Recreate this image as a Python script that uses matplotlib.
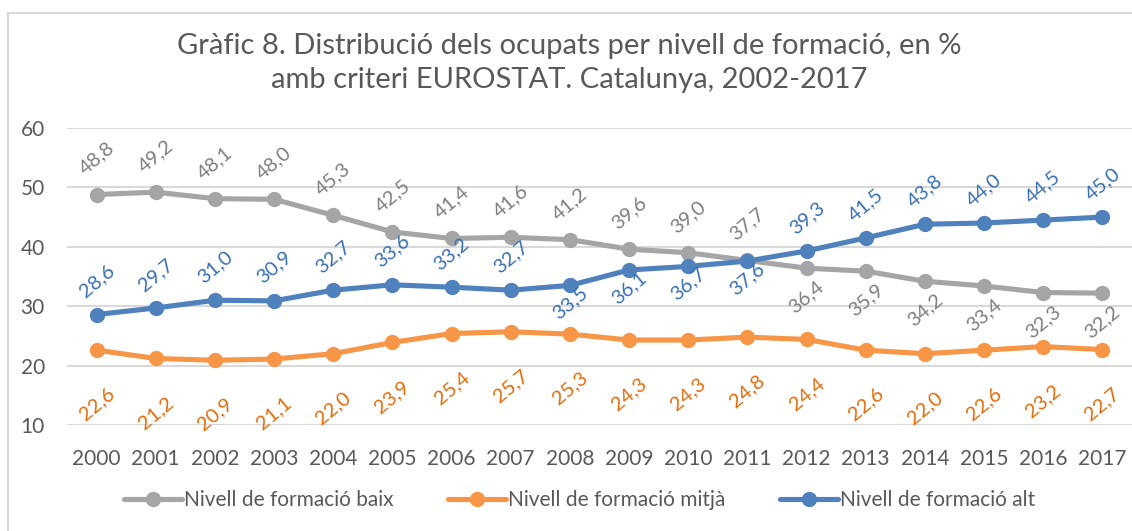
import numpy as np
import matplotlib.pyplot as plt
from matplotlib.patches import Rectangle

plt.rcParams['font.family'] = ['Lato', 'DejaVu Sans']

years = list(range(2000, 2018))
baix = [48.8, 49.2, 48.1, 48.0, 45.3, 42.5, 41.4, 41.6, 41.2, 39.6,
        39.0, 37.7, 36.4, 35.9, 34.2, 33.4, 32.3, 32.2]
mitja = [22.6, 21.2, 20.9, 21.1, 22.0, 23.9, 25.4, 25.7, 25.3, 24.3,
         24.3, 24.8, 24.4, 22.6, 22.0, 22.6, 23.2, 22.7]
alt = [28.6, 29.7, 31.0, 30.9, 32.7, 33.6, 33.2, 32.7, 33.5, 36.1,
       36.7, 37.6, 39.3, 41.5, 43.8, 44.0, 44.5, 45.0]
names = ['Nivell de formació baix', 'Nivell de formació mitjà', 'Nivell de formació alt']

# label side per point: +1 above, -1 below
side_baix = [1] * 12 + [-1] * 6
side_mitja = [-1] * 18
side_alt = [1] * 8 + [-1] * 4 + [1] * 6

series = [
    (baix, side_baix, '#A5A5A5', '#7F7F7F', 26, 21),
    (mitja, side_mitja, '#F79646', '#E46C0A', 26, 39),
    (alt, side_alt, '#4F81BD', '#3A70B5', 24, 13),
]

fig = plt.figure(figsize=(11.32, 5.31), dpi=100)
ax = fig.add_axes([67 / 1132, 1 - 425 / 531, 1 - 67 / 1132, (425 - 128) / 531])

x = np.arange(len(years))
for (vals, sides, col, tcol, up, down), name in zip(series, names):
    ax.plot(x, vals, color=col, lw=3.7, marker='o', ms=10, label=name,
            solid_capstyle='round', zorder=3)
    for xi, v, s in zip(x, vals, sides):
        off = up if s > 0 else -down
        ax.annotate(f'{v:.1f}'.replace('.', ','), (xi, v), xytext=(0, off),
                    textcoords='offset points', ha='center', va='center',
                    rotation=40, rotation_mode='anchor', color=tcol,
                    fontsize=14.5, zorder=4)

ax.set_xlim(-0.5, len(years) - 0.5)
ax.set_ylim(10, 60)
ax.set_yticks([10, 20, 30, 40, 50, 60])
ax.set_xticks(x)
ax.set_xticklabels([str(y) for y in years])
ax.tick_params(length=0, labelsize=15, colors='#595959', pad=17)
ax.tick_params(axis='y', pad=16)
ax.grid(axis='y', color='#D9D9D9', lw=1.5)
ax.set_axisbelow(True)
for sp in ax.spines.values():
    sp.set_visible(False)

fig.text(0.503, 1 - 63 / 531,
         'Gràfic 8. Distribució dels ocupats per nivell de formació, en %\namb criteri EUROSTAT. Catalunya, 2002-2017',
         ha='center', va='center', fontsize=21, color='#595959', linespacing=1.35)

fig.legend(loc='center', bbox_to_anchor=(0.512, 1 - 500 / 531), ncol=3, frameon=False,
           fontsize=15, labelcolor='#595959', handlelength=2.8, columnspacing=2.6,
           handletextpad=0.1)

fig.patches.append(Rectangle((8 / 1132, -0.1), 2, 1.1 - 13 / 531, transform=fig.transFigure,
                             fill=False, edgecolor='#D9D9D9', lw=1.5))

fig.savefig('out.png', dpi=100)
